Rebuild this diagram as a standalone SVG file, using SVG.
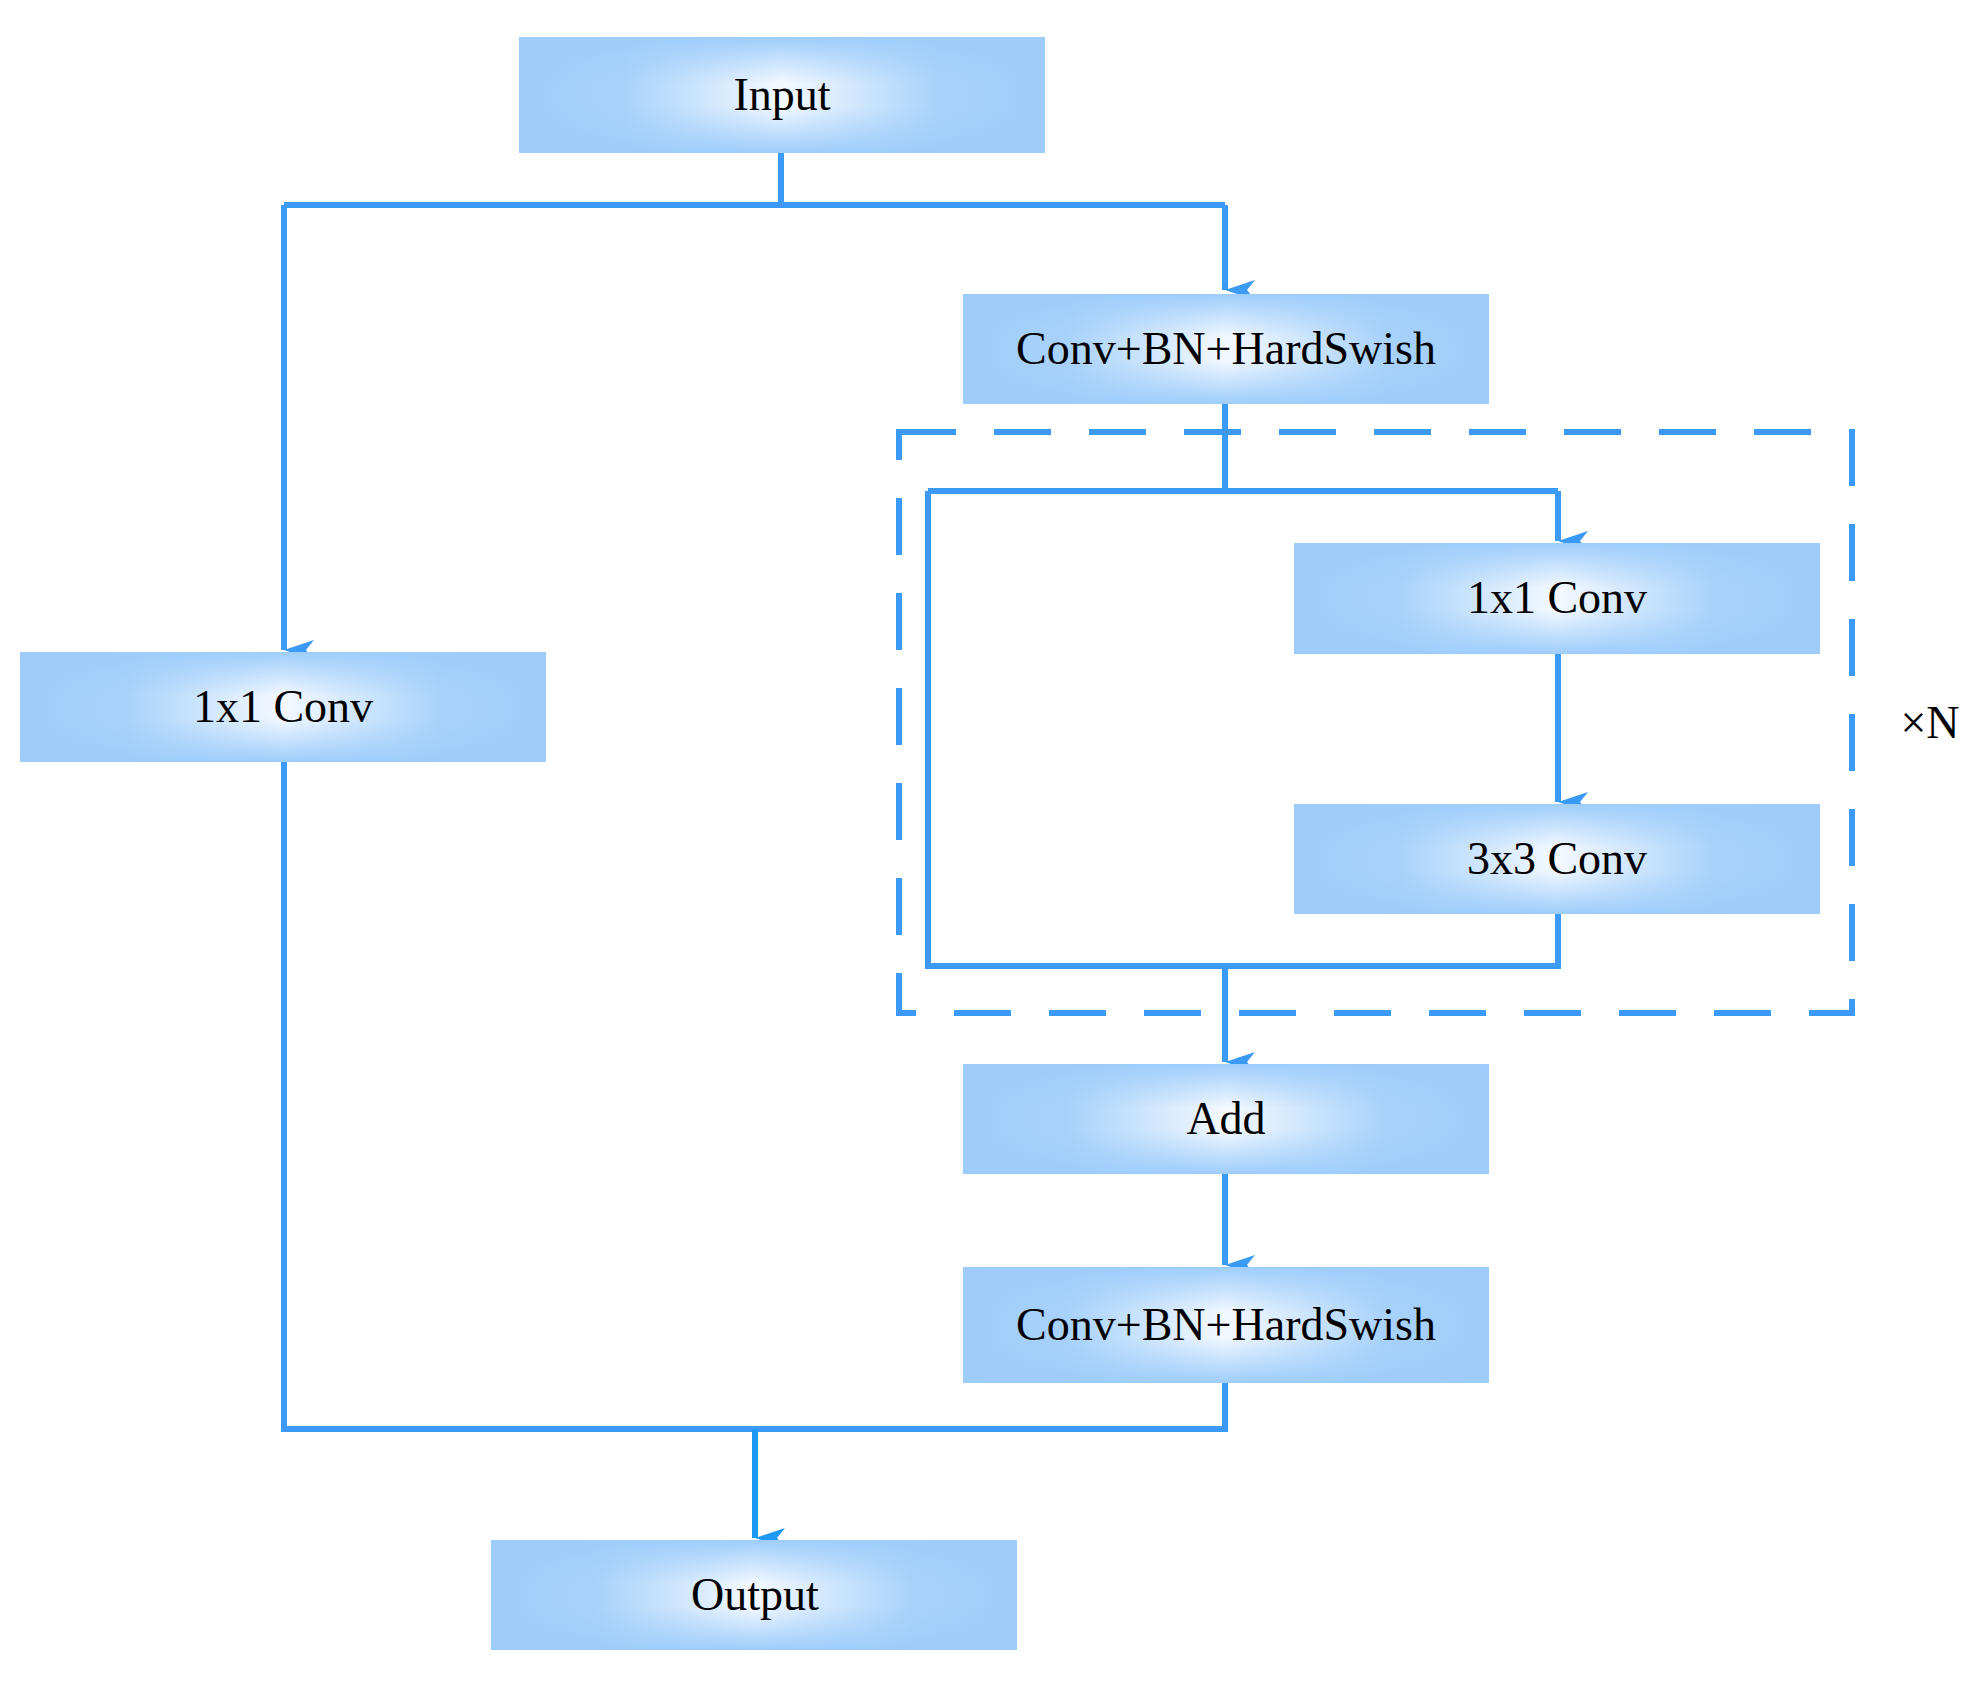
<svg xmlns="http://www.w3.org/2000/svg" width="1986" height="1684" viewBox="0 0 1986 1684">
<style>
.t{font-family:"Liberation Serif","Times New Roman",serif;font-size:46px;fill:#000;text-anchor:middle}
.c{fill:none;stroke:#3a9af5;stroke-width:6}
</style>
<defs>
<linearGradient id="gh" x1="0" x2="1" y1="0" y2="0">
<stop offset="0" stop-color="#9ecdfb"/><stop offset="0.2" stop-color="#a8d2fb"/><stop offset="0.5" stop-color="#f4f9ff"/><stop offset="0.8" stop-color="#a8d2fb"/><stop offset="1" stop-color="#9ecdfb"/>
</linearGradient>
<linearGradient id="gv" x1="0" x2="0" y1="0" y2="1">
<stop offset="0" stop-color="#9ecdfb" stop-opacity="1"/><stop offset="0.4" stop-color="#9ecdfb" stop-opacity="0"/><stop offset="0.6" stop-color="#9ecdfb" stop-opacity="0"/><stop offset="1" stop-color="#9ecdfb" stop-opacity="1"/>
</linearGradient>
<marker id="a" viewBox="0 0 20 30" refX="10" refY="30" markerWidth="20" markerHeight="30" markerUnits="userSpaceOnUse" orient="auto-start-reverse">
<path d="M0,0 L10,8 L20,0 L10,30 Z" fill="#3a9af5" transform="rotate(0)"/>
</marker>
<marker id="b" viewBox="0 0 20 30" refX="10" refY="30" markerWidth="20" markerHeight="30" markerUnits="userSpaceOnUse" orient="auto-start-reverse">
<path d="M0,0 L10,8 L20,0 L10,30 Z" fill="#1e9af5"/>
</marker>
</defs>
<g id="connectors">
<path class="c" d="M781,153 V205 M284,205 H1225"/>
<path class="c" d="M284,205 V650" marker-end="url(#a)" style="stroke-width:6"/>
<path class="c" d="M1225,205 V290" marker-end="url(#a)"/>
<path class="c" d="M1225,404 V491 M928,491 H1558"/>
<path class="c" d="M928,491 V966 H1558 V914"/>
<path class="c" d="M1558,491 V541" marker-end="url(#a)"/>
<path class="c" d="M1558,654 V802" marker-end="url(#a)"/>
<path class="c" d="M1225,966 V1062" marker-end="url(#a)"/>
<path class="c" d="M1225,1174 V1265" marker-end="url(#a)"/>
<path class="c" d="M284,762 V1429 H1225 V1383"/>
<path class="c" style="stroke:#1e9af5" d="M755,1429 V1538" marker-end="url(#b)"/>
<rect x="899" y="432" width="953" height="581" fill="none" stroke="#3a9af5" stroke-width="6" stroke-dasharray="57,38"/>
</g>
<g id="input"><rect x="519" y="37" width="526" height="116" fill="url(#gh)"/><rect x="519" y="37" width="526" height="116" fill="url(#gv)"/><text class="t" x="782" y="110">Input</text></g>
<g id="conv1"><rect x="963" y="294" width="526" height="110" fill="url(#gh)"/><rect x="963" y="294" width="526" height="110" fill="url(#gv)"/><text class="t" x="1226" y="364">Conv+BN+HardSwish</text></g>
<g id="left1x1"><rect x="20" y="652" width="526" height="110" fill="url(#gh)"/><rect x="20" y="652" width="526" height="110" fill="url(#gv)"/><text class="t" x="283" y="722">1x1 Conv</text></g>
<g id="in1x1"><rect x="1294" y="543" width="526" height="111" fill="url(#gh)"/><rect x="1294" y="543" width="526" height="111" fill="url(#gv)"/><text class="t" x="1557" y="613">1x1 Conv</text></g>
<g id="in3x3"><rect x="1294" y="804" width="526" height="110" fill="url(#gh)"/><rect x="1294" y="804" width="526" height="110" fill="url(#gv)"/><text class="t" x="1557" y="874">3x3 Conv</text></g>
<g id="add"><rect x="963" y="1064" width="526" height="110" fill="url(#gh)"/><rect x="963" y="1064" width="526" height="110" fill="url(#gv)"/><text class="t" x="1226" y="1134">Add</text></g>
<g id="conv2"><rect x="963" y="1267" width="526" height="116" fill="url(#gh)"/><rect x="963" y="1267" width="526" height="116" fill="url(#gv)"/><text class="t" x="1226" y="1340">Conv+BN+HardSwish</text></g>
<g id="output"><rect x="491" y="1540" width="526" height="110" fill="url(#gh)"/><rect x="491" y="1540" width="526" height="110" fill="url(#gv)"/><text class="t" x="755" y="1610">Output</text></g>
<g id="xn"><text class="t" x="1930" y="738">×N</text></g>
</svg>
